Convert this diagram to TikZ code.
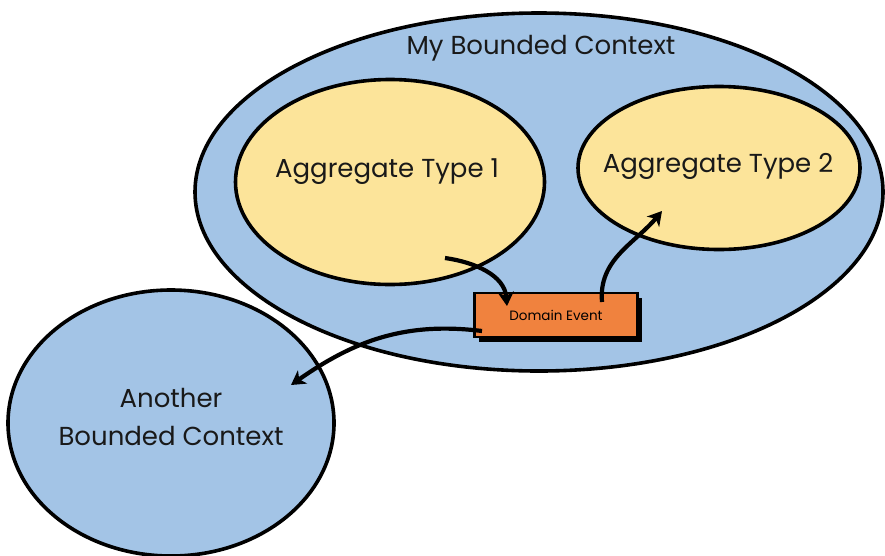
\documentclass[tikz,border=0pt]{standalone}
\usepackage{fontspec}
\setmainfont{Poppins}
\usetikzlibrary{shapes.geometric,arrows.meta,shadows}
\definecolor{ctxblue}{RGB}{163,196,230}
\definecolor{aggyellow}{RGB}{252,228,154}
\definecolor{evorange}{RGB}{240,130,62}
\tikzset{
  ctx/.style={ellipse,draw=black,line width=3.6pt,fill=ctxblue,inner sep=0pt},
  agg/.style={ellipse,draw=black,line width=3.6pt,fill=aggyellow,inner sep=0pt},
  evbox/.style={rectangle,draw=black,line width=2.4pt,fill=evorange,inner sep=0pt,
    drop shadow={shadow xshift=4pt,shadow yshift=-5pt,fill=black,opacity=1}},
  lbl/.style={font=\fontsize{26}{38}\selectfont,text=black!90,align=center},
  flow/.style={line width=4.2pt,-{Stealth[length=14pt,width=16pt,inset=4pt]}}
}
\begin{document}
\begin{tikzpicture}[x=1pt,y=1pt]
  \useasboundingbox (0,0) rectangle (885,-555);
  \begin{scope}
    \clip (0,0) rectangle (885,-555);
    % bounded contexts
    \node[ctx,minimum width=688pt,minimum height=358pt] (mine) at (539,-192) {};
    \node[agg,minimum width=309pt,minimum height=205pt] (agg1) at (390,-182) {};
    \node[agg,minimum width=282pt,minimum height=163pt] (agg2) at (719,-168) {};
    \node[ctx,minimum width=326pt,minimum height=266pt] (other) at (171,-423) {};
  \end{scope}
  % labels
  \node[lbl] (tmine) at (541,-48) {My Bounded Context};
  \node[lbl] (tagg1) at (387,-172) {Aggregate Type 1};
  \node[lbl] (tagg2) at (718,-166) {Aggregate Type 2};
  \node[lbl] (tother) at (171,-417) {Another\\Bounded Context};
  % domain event
  \node[evbox,minimum width=163pt,minimum height=44pt,
        font=\fontsize{13.5}{16}\selectfont] (ev) at (556,-315) {Domain Event};
  % event flow
  \coordinate (a1out) at (445,-258);
  \coordinate (evin) at (507,-306);
  \coordinate (evout2) at (602,-302);
  \coordinate (a2in) at (662,-211);
  \coordinate (evout3) at (482,-331);
  \coordinate (othin) at (291,-385);
  \draw[flow] (a1out) to[out=-8,in=95] (evin);
  \draw[flow] (evout2) to[out=95,in=-130] (a2in);
  \draw[flow] (evout3) to[out=173,in=35] (othin);
\end{tikzpicture}
\end{document}
